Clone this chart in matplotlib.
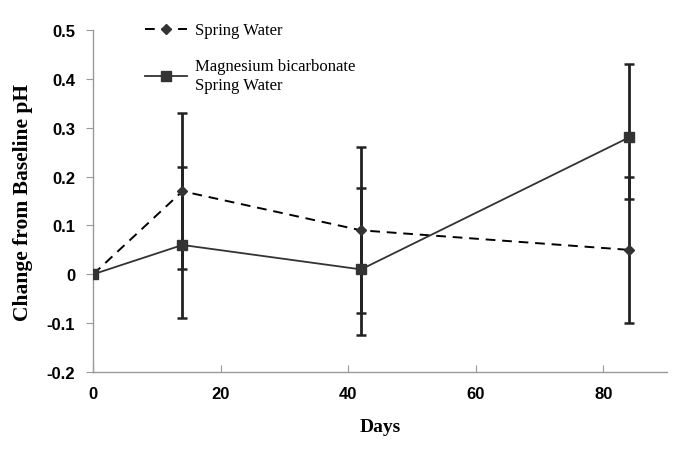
import numpy as np
from matplotlib import pyplot as plt

days = [0, 14, 42, 84]
spring = [0.0, 0.17, 0.09, 0.05]
spring_lo = [0.0, 0.16, 0.17, 0.15]
spring_hi = [0.0, 0.16, 0.17, 0.15]
mg = [0.0, 0.06, 0.01, 0.28]
mg_lo = [0.0, 0.15, 0.135, 0.125]
mg_hi = [0.0, 0.16, 0.167, 0.15]

fig = plt.figure(figsize=(6.85, 4.56), dpi=100)
ax = fig.add_axes([0.136, 0.182, 0.838, 0.75])

# error bars first, lines on top
ax.errorbar(days[1:], spring[1:], yerr=[spring_lo[1:], spring_hi[1:]], fmt='none',
            ecolor='#222222', elinewidth=2, capsize=3.6, capthick=1.8, zorder=2)
ax.errorbar(days[1:], mg[1:], yerr=[mg_lo[1:], mg_hi[1:]], fmt='none',
            ecolor='#222222', elinewidth=2, capsize=3.6, capthick=1.8, zorder=2)

ax.plot(days, spring, color='black', linestyle=(0, (5, 3.5)), linewidth=1.4,
        marker='D', markersize=5, markerfacecolor='#333333', markeredgecolor='#333333',
        label='Spring Water', zorder=3)
ax.plot(days, mg, color='#333333', linestyle='-', linewidth=1.3,
        marker='s', markersize=7, markerfacecolor='#333333', markeredgecolor='#333333',
        label='Magnesium bicarbonate\nSpring Water', zorder=3)

ax.set_xlim(0, 90)
ax.set_ylim(-0.2, 0.5)
ax.set_xticks([0, 20, 40, 60, 80])
ax.set_yticks(np.arange(-0.2, 0.51, 0.1))
ax.set_yticklabels(['-0.2', '-0.1', '0', '0.1', '0.2', '0.3', '0.4', '0.5'])

for s in ['top', 'right']:
    ax.spines[s].set_visible(False)
for s in ['left', 'bottom']:
    ax.spines[s].set_color('#999999')
    ax.spines[s].set_linewidth(1.0)

ax.tick_params(axis='y', direction='out', length=5, color='#999999', pad=8)
ax.tick_params(axis='x', direction='in', length=5, color='#999999', pad=10)
for lab in ax.get_xticklabels() + ax.get_yticklabels():
    lab.set_family('Liberation Sans')
    lab.set_fontweight('bold')
    lab.set_fontsize(12)

ax.set_xlabel('Days', family='Liberation Serif', fontweight='bold', fontsize=14, labelpad=12)
ax.set_ylabel('Change from Baseline pH', family='Liberation Serif', fontweight='bold',
              fontsize=15.5, labelpad=10)

ax.legend(loc='upper left', bbox_to_anchor=(0.065, 1.066), frameon=False,
          prop={'family': 'Liberation Serif', 'size': 12}, handlelength=2.5,
          labelspacing=1.2, handletextpad=0.5)

fig.savefig('out.png', dpi=100)
